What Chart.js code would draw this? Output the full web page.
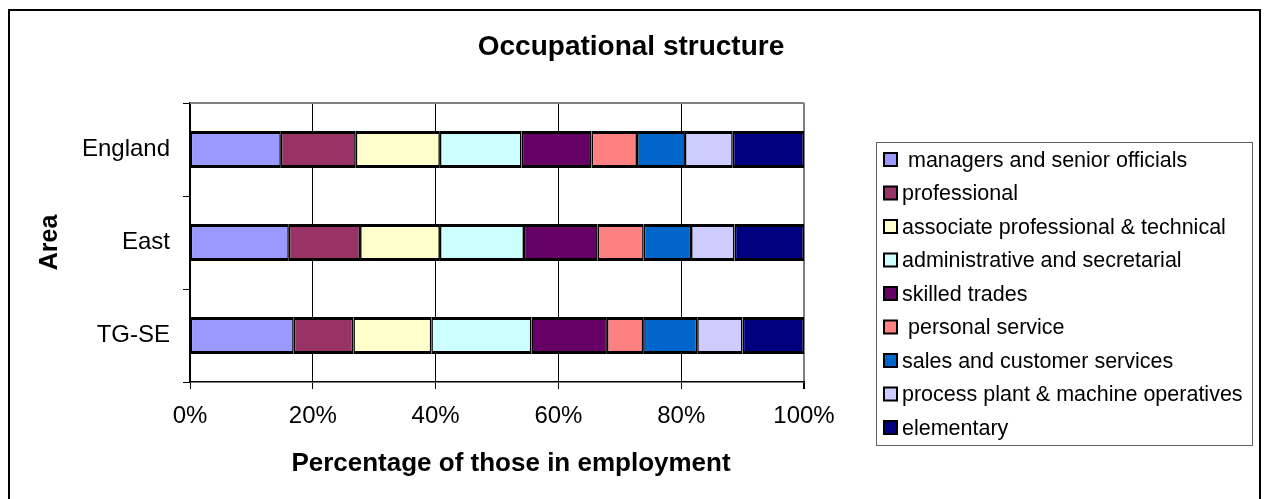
<!DOCTYPE html>
<html>
<head>
<meta charset="utf-8">
<script src="https://cdn.jsdelivr.net/npm/chart.js@4"></script>
<style>
  html, body { margin: 0; padding: 0; background: #fff; }
  canvas { display: block; }
</style>
</head>
<body>
<canvas id="occChart" width="1265" height="499"></canvas>
<script>
// areas, top to bottom
const areas = ['England', 'East', 'TG-SE'];

const occupations = [
  ' managers and senior officials',
  'professional',
  'associate professional & technical',
  'administrative and secretarial',
  'skilled trades',
  ' personal service',
  'sales and customer services',
  'process plant & machine operatives',
  'elementary'
];

// % of those in employment, in occupation order
const england = [14.8, 12.2, 13.7, 13.3, 11.4, 7.4, 7.8, 7.8, 11.6];
const east    = [16.1, 11.6, 13.0, 13.7, 12.0, 7.5, 7.7, 7.1, 11.3];
const tgse    = [16.9, 9.7, 12.7, 16.3, 12.3, 5.9, 8.8, 7.4, 10.0];

const xTicks = [0, 20, 40, 60, 80, 100];

const colours = ['#9999FF', '#993366', '#FFFFCC', '#CCFFFF', '#660066',
                 '#FF8080', '#0066CC', '#CCCCFF', '#000080'];

const FONT = '"Liberation Sans", Arial, sans-serif';
Chart.defaults.font.family = FONT;
Chart.defaults.color = '#000';

const datasets = occupations.map((name, i) => ({
  label: name,
  data: [england[i], east[i], tgse[i]],
  backgroundColor: colours[i],
  borderColor: '#000',
  borderWidth: { top: 3, bottom: 3, left: 1.6, right: 1.6 },
  borderSkipped: false,
  inflateAmount: 0,
  barPercentage: 0.4,
  categoryPercentage: 1.0
}));

// titles, frame, legend box and outer border
const extras = {
  id: 'extras',
  afterDraw(chart) {
    const ctx = chart.ctx;
    const a = chart.chartArea;
    ctx.save();
    ctx.strokeStyle = '#808080';
    ctx.lineWidth = 2;
    ctx.beginPath();
    ctx.moveTo(a.left, a.top);
    ctx.lineTo(a.right, a.top);
    ctx.stroke();

    ctx.fillStyle = '#000';
    ctx.textAlign = 'center';
    ctx.textBaseline = 'middle';
    ctx.font = 'bold 28px ' + FONT;
    ctx.fillText('Occupational structure', 631, 47);
    ctx.font = 'bold 26px ' + FONT;
    ctx.fillText('Percentage of those in employment', 511, 464);

    // legend
    ctx.textAlign = 'left';
    ctx.strokeStyle = '#606060';
    ctx.lineWidth = 1;
    ctx.strokeRect(876.5, 142.5, 376, 303);
    ctx.font = '21.5px ' + FONT;
    chart.data.datasets.forEach((ds, i) => {
      const y = 160 + i * 33.5;
      ctx.fillStyle = ds.backgroundColor;
      ctx.fillRect(884, y - 7, 13, 13);
      ctx.strokeStyle = '#000';
      ctx.lineWidth = 2;
      ctx.strokeRect(884, y - 7, 13, 13);
      ctx.fillStyle = '#000';
      ctx.fillText(ds.label, 902, y + 1);
    });

    ctx.strokeStyle = '#000';
    ctx.lineWidth = 2;
    ctx.strokeRect(9, 10, 1251, 520);
    ctx.restore();
  }
};

new Chart(document.getElementById('occChart'), {
  type: 'bar',
  data: { labels: areas, datasets: datasets },
  options: {
    indexAxis: 'y',
    responsive: false,
    animation: false,
    layout: { padding: { left: 30, right: 461, top: 103, bottom: 0 } },
    plugins: {
      legend: { display: false },
      tooltip: { enabled: false },
      title: { display: false }
    },
    scales: {
      x: {
        type: 'linear',
        stacked: true,
        min: 0,
        max: 100,
        afterBuildTicks: s => { s.ticks = xTicks.map(v => ({ value: v })); },
        ticks: { callback: v => v + '%', font: { size: 24 }, color: '#000', padding: 13 },
        grid: {
          color: c => (c.tick && c.tick.value === 100 ? '#808080' : '#000'),
          lineWidth: c => (c.tick && c.tick.value === 100 ? 2 : 1),
          tickLength: 7,
          tickColor: '#000'
        },
        border: { color: '#000', width: 1.5 },
        afterFit: s => { s.height = 117; }
      },
      y: {
        stacked: true,
        ticks: { font: { size: 24 }, color: '#000', padding: 13 },
        grid: { offset: true, drawOnChartArea: false, tickLength: 7, color: '#000' },
        border: { color: '#000', width: 1.5 },
        title: {
          display: true,
          text: 'Area',
          font: { size: 25, weight: 'bold' },
          color: '#000',
          padding: { top: 5, bottom: 0 }
        },
        afterFit: s => { s.width = 160; }
      }
    }
  },
  plugins: [extras]
});
</script>
</body>
</html>
